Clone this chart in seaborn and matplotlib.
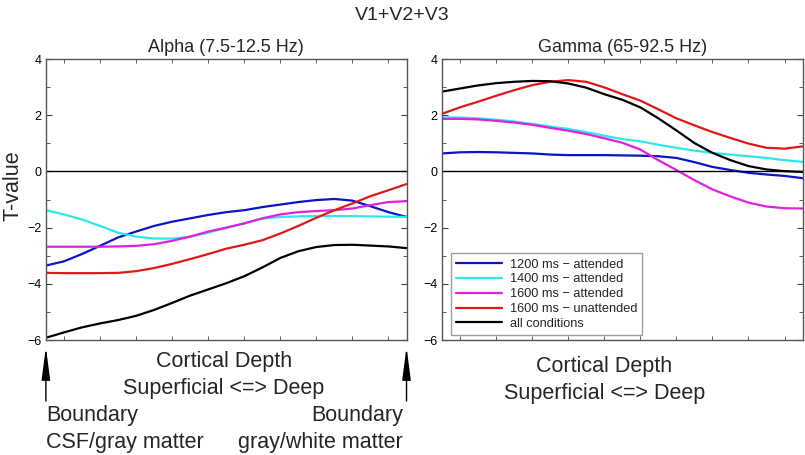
import numpy as np
import pandas as pd
import matplotlib
matplotlib.use("Agg")
import matplotlib.pyplot as plt
import seaborn as sns

# cortical depth, 0 = CSF/gray boundary, 1 = gray/white boundary
depth = [0.00, 0.05, 0.10, 0.15, 0.20, 0.25, 0.30, 0.35, 0.40, 0.45, 0.50,
         0.55, 0.60, 0.65, 0.70, 0.75, 0.80, 0.85, 0.90, 0.95, 1.00]

conditions = ["1200 ms \u2212 attended", "1400 ms \u2212 attended", "1600 ms \u2212 attended",
              "1600 ms \u2212 unattended", "all conditions"]
colors = ["#0a14c8", "#2de8e8", "#e020e0", "#e01818", "#000000"]

# Alpha (7.5-12.5 Hz)
alpha_1200 = [-3.35, -3.20, -2.94, -2.65, -2.35, -2.14, -1.94, -1.79, -1.67, -1.55, -1.45,
              -1.38, -1.27, -1.18, -1.09, -1.02, -0.98, -1.04, -1.24, -1.45, -1.62]
alpha_1400 = [-1.38, -1.53, -1.71, -1.94, -2.18, -2.32, -2.39, -2.39, -2.33, -2.18, -2.01,
              -1.85, -1.68, -1.62, -1.60, -1.59, -1.59, -1.59, -1.60, -1.61, -1.62]
alpha_1600 = [-2.68, -2.68, -2.68, -2.68, -2.67, -2.65, -2.59, -2.47, -2.32, -2.14, -2.00,
              -1.85, -1.67, -1.53, -1.45, -1.41, -1.38, -1.32, -1.20, -1.09, -1.06]
alpha_1600u = [-3.61, -3.62, -3.62, -3.62, -3.61, -3.55, -3.44, -3.29, -3.12, -2.94, -2.75,
               -2.61, -2.45, -2.21, -1.94, -1.65, -1.38, -1.14, -0.88, -0.67, -0.45]
alpha_all = [-5.92, -5.73, -5.55, -5.41, -5.29, -5.14, -4.93, -4.68, -4.42, -4.20, -3.98,
             -3.73, -3.42, -3.08, -2.84, -2.69, -2.62, -2.61, -2.64, -2.67, -2.73]

# Gamma (65-92.5 Hz)
gamma_1200 = [0.64, 0.68, 0.69, 0.68, 0.66, 0.64, 0.60, 0.58, 0.58, 0.58, 0.57,
              0.56, 0.54, 0.48, 0.33, 0.16, 0.05, -0.05, -0.11, -0.16, -0.24]
gamma_1400 = [1.92, 1.92, 1.89, 1.84, 1.78, 1.69, 1.60, 1.51, 1.40, 1.27, 1.15,
              1.07, 0.95, 0.84, 0.74, 0.66, 0.60, 0.54, 0.48, 0.40, 0.34]
gamma_1600 = [1.87, 1.87, 1.85, 1.80, 1.74, 1.66, 1.55, 1.45, 1.33, 1.18, 1.02,
              0.78, 0.40, 0.05, -0.31, -0.64, -0.89, -1.11, -1.25, -1.31, -1.32]
gamma_1600u = [2.05, 2.28, 2.48, 2.69, 2.89, 3.07, 3.19, 3.25, 3.19, 2.99, 2.75,
               2.52, 2.21, 1.89, 1.64, 1.40, 1.19, 0.99, 0.84, 0.81, 0.89]
gamma_all = [2.84, 2.95, 3.06, 3.14, 3.19, 3.22, 3.21, 3.13, 2.98, 2.75, 2.55,
             2.28, 1.89, 1.46, 1.01, 0.66, 0.40, 0.19, 0.07, 0.01, -0.02]

alpha = [alpha_1200, alpha_1400, alpha_1600, alpha_1600u, alpha_all]
gamma = [gamma_1200, gamma_1400, gamma_1600, gamma_1600u, gamma_all]

sns.set_style("ticks")
plt.rcParams['font.family'] = ['Liberation Sans', 'DejaVu Sans']

fig = plt.figure(figsize=(8.05, 4.55), dpi=100)
ax1 = fig.add_axes([0.057, 0.2527, 0.448, 0.6176])
ax2 = fig.add_axes([0.549, 0.2527, 0.448, 0.6176])


def draw_panel(ax, series, title):
    for name, vals, c in zip(conditions, series, colors):
        sns.lineplot(x=depth, y=vals, color=c, lw=1.6, label=name, ax=ax)
    ax.axhline(0, color="black", lw=1)
    ax.set_xlim(0, 1)
    ax.set_ylim(-6, 4)
    ax.set_yticks([-6, -4, -2, 0, 2, 4])
    ax.set_yticks(np.arange(-6, 5, 1), minor=True)
    ax.set_xticks(np.arange(0.05, 1.0, 0.1), minor=True)
    ax.set_xticks([])
    ax.tick_params(which="both", direction="in", top=True, right=True, length=3,
                   labelsize=9, colors="#444444", labelcolor="black", pad=3)
    ax.tick_params(which="major", length=4)
    for s in ax.spines.values():
        s.set_color("#555555")
        s.set_linewidth(1)
    ax.set_title(title, fontsize=13, pad=5)
    ax.set_xlabel("")
    ax.set_ylabel("")


draw_panel(ax1, alpha, "Alpha (7.5-12.5 Hz)")
draw_panel(ax2, gamma, "Gamma (65-92.5 Hz)")
ax1.get_legend().remove()
ax1.set_ylabel("T-value", fontsize=15.5)
ax1.yaxis.set_label_coords(-0.062, 0.55)

leg = ax2.legend(loc="lower left", bbox_to_anchor=(0.025, 0.018), fontsize=9.2,
                 frameon=True, fancybox=False, handlelength=3.6, borderpad=0.4,
                 labelspacing=0.22, handletextpad=0.6, borderaxespad=0,
                 edgecolor="#888888")
leg.get_frame().set_linewidth(1)

fig.suptitle("V1+V2+V3", fontsize=14, y=0.985)

ax1.text(0.494, -0.075, "Cortical Depth", transform=ax1.transAxes, ha="center",
         va="center", fontsize=15.5)
ax1.text(0.494, -0.171, "Superficial <=> Deep", transform=ax1.transAxes, ha="center",
         va="center", fontsize=15.5)
ax2.text(0.45, -0.0925, "Cortical Depth", transform=ax2.transAxes, ha="center",
         va="center", fontsize=15.5)
ax2.text(0.45, -0.189, "Superficial <=> Deep", transform=ax2.transAxes, ha="center",
         va="center", fontsize=15.5)

for xpos in (0, 1):
    ax1.annotate("", xy=(xpos, -0.025), xytext=(xpos, -0.217),
                 xycoords="axes fraction", textcoords="axes fraction",
                 arrowprops=dict(arrowstyle="-|>,head_length=1.0,head_width=0.13",
                                 mutation_scale=20, shrinkA=0, shrinkB=0,
                                 color="black", lw=1), annotation_clip=False)

ax1.text(0.0, -0.27, "Boundary", transform=ax1.transAxes, ha="left", va="center", fontsize=15.5)
ax1.text(0.0, -0.363, "CSF/gray matter", transform=ax1.transAxes, ha="left", va="center", fontsize=15.5)
ax1.text(0.99, -0.27, "Boundary", transform=ax1.transAxes, ha="right", va="center", fontsize=15.5)
ax1.text(0.99, -0.363, "gray/white matter", transform=ax1.transAxes, ha="right", va="center", fontsize=15.5)

fig.savefig("out.png", dpi=100)
